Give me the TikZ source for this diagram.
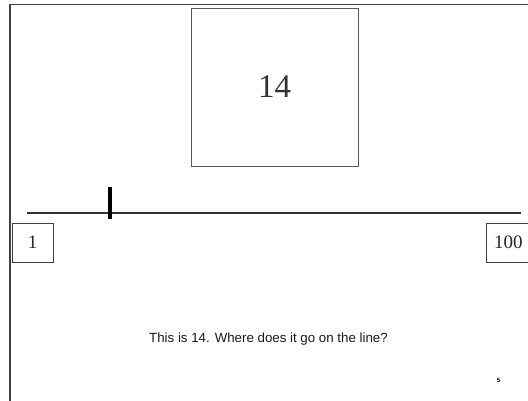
\documentclass[tikz,border=0pt]{standalone}
\usepackage{fontspec}
\setmainfont{Liberation Serif}
\newfontfamily\arialfont{Liberation Sans}
\begin{document}
\begin{tikzpicture}[x=1pt,y=-1pt,
  frameline/.style={draw=black!75,line width=1.5pt},
  numbox/.style={draw=black!75,line width=0.9pt,inner sep=0pt,font=\fontsize{19}{19}\selectfont,text=black!85},
  bigbox/.style={draw=black!65,line width=1pt,inner sep=0pt,minimum width=167pt,minimum height=158pt,font=\fontsize{33}{33}\selectfont,text=black!80}]
\useasboundingbox (0,0) rectangle (528,400);
\clip (0,0) rectangle (528,400);
\fill[white] (0,0) rectangle (528,400);
% frame lines
\coordinate (tl) at (10,4.5);
\coordinate (tr) at (530,4.5);
\coordinate (bl) at (10,402);
\draw[frameline] (tr) -- (tl) -- (bl);
% big box
\node[bigbox] (big) at (274.5,87) {14};
% number line
\coordinate (lstart) at (27,213);
\coordinate (lend) at (521,213);
\draw[draw=black!80,line width=2pt] (lstart) -- (lend);
\coordinate (ttop) at (110,187);
\coordinate (tbot) at (110,219);
\draw[black,line width=4.5pt] (ttop) -- (tbot);
% end boxes
\node[numbox,minimum width=41pt,minimum height=39pt] (one) at (32.5,242.5) {1};
\node[numbox,minimum width=50pt,minimum height=39pt,anchor=west] (hundred) at (486,242.5) {\hspace{-6pt}100};
% caption
\node[font=\arialfont\fontsize{13.3}{14}\selectfont,text=black!90] (cap) at (268.5,339) {This is 14. Where does it go on the line?};
\node[font=\arialfont\bfseries\fontsize{6}{6}\selectfont] (pg) at (498.5,380) {5};
\end{tikzpicture}
\end{document}
